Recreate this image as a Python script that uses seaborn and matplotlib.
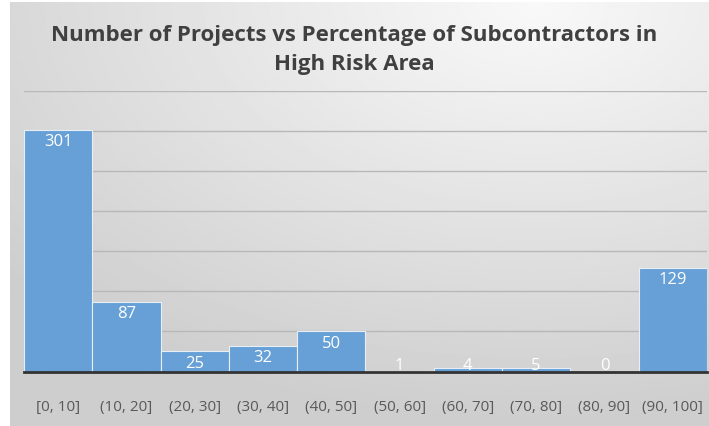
import numpy as np
import pandas as pd
import seaborn as sns
import matplotlib.pyplot as plt

bins = ['[0, 10]', '(10, 20]', '(20, 30]', '(30, 40]', '(40, 50]',
        '(50, 60]', '(60, 70]', '(70, 80]', '(80, 90]', '(90, 100]']
projects = [301, 87, 25, 32, 50, 1, 4, 5, 0, 129]

sns.set_theme(style='white')
plt.rcParams['font.family'] = ['Open Sans', 'DejaVu Sans']

fig = plt.figure(figsize=(7.09, 4.27), dpi=100)
fig.patch.set_facecolor('white')

# grey-to-white background like the Excel chart style
bg = fig.add_axes([10 / 709, 0, 1 - 10 / 709, 1 - 3 / 427], zorder=0)
yy, xx = np.mgrid[0:1:200j, 0:1:300j]
dist = np.sqrt((xx - 0.75) ** 2 + (yy - 1.0) ** 2)
shade = 0.975 - 0.17 * np.clip(dist, 0, 1)
bg.imshow(shade, cmap='gray', vmin=0, vmax=1, aspect='auto',
          extent=[0, 1, 0, 1], origin='lower')
bg.axis('off')

ax = fig.add_axes([0.034, 0.1276, 0.963, 0.657], zorder=1)
ax.set_facecolor('none')

df = pd.DataFrame({'bin': bins, 'projects': projects})
sns.barplot(data=df, x='bin', y='projects', color='#66a0d6', saturation=1,
            width=1.0, edgecolor='#e8eef5', linewidth=0.8, ax=ax, zorder=2)

ax.set_xlim(-0.5, 9.5)
ax.set_ylim(0, 350)
ax.set_yticks(range(0, 351, 50))
ax.yaxis.grid(True, color='#b8b8b8', linewidth=1.0)
ax.set_axisbelow(True)
ax.tick_params(axis='y', left=False, labelleft=False)
ax.tick_params(axis='x', bottom=False, pad=14, labelsize=11, labelcolor='#595959')
for s in ['top', 'right', 'left']:
    ax.spines[s].set_visible(False)
ax.spines['bottom'].set_color('#333333')
ax.spines['bottom'].set_linewidth(2)
ax.spines['bottom'].set_zorder(3)
ax.set_xlabel('')
ax.set_ylabel('')

for i, v in enumerate(projects):
    ax.text(i, max(v - 14, 8), str(v), ha='center', va='center',
            color='white', fontsize=12, zorder=4)

fig.text(0.5, 0.882, 'Number of Projects vs Percentage of Subcontractors in\nHigh Risk Area',
         ha='center', va='center', fontsize=16, fontweight='bold', color='#404040',
         linespacing=1.5)

fig.savefig('out.png', dpi=100)
